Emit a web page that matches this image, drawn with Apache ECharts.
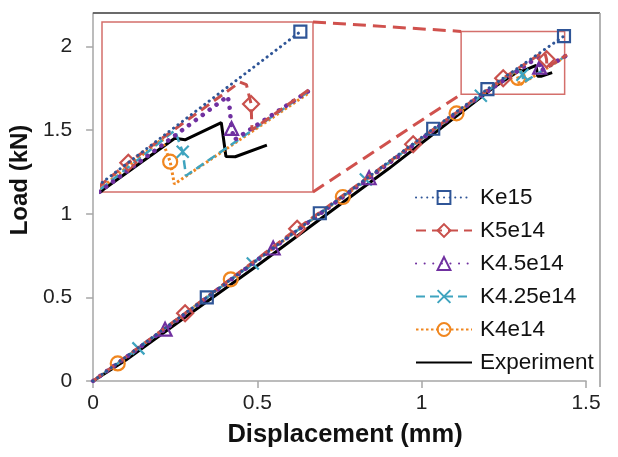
<!DOCTYPE html>
<html>
<head>
<meta charset="utf-8">
<script src="https://cdn.jsdelivr.net/npm/echarts@6/dist/echarts.min.js"></script>
<style>
  html, body { margin: 0; padding: 0; background: #fff; }
  #chart { width: 618px; height: 457px; }
</style>
</head>
<body>
<div id="chart"></div>
<script>
// Load versus displacement for several interface stiffness values, plus the test record.
// Each curve: displacement (mm), load (kN), and which points carry a marker.

const ke15X    = [0, 0.346, 0.690, 1.035, 1.200, 1.433];
const ke15Y    = [0, 0.500, 1.003, 1.508, 1.745, 2.062];
const ke15Mark = [0, 1, 1, 1, 1, 1];

const k5X    = [0, 0.280, 0.621, 0.974, 1.248, 1.368, 1.375, 1.380, 1.381, 1.442];
const k5Y    = [0, 0.405, 0.910, 1.415, 1.810, 1.965, 1.960, 1.923, 1.873, 1.950];
const k5Mark = [0, 1, 1, 1, 1, 0, 0, 1, 0, 0];

const k45X    = [0, 0.219, 0.548, 0.840, 1.150, 1.355, 1.357, 1.359, 1.362, 1.442];
const k45Y    = [0, 0.310, 0.795, 1.215, 1.665, 1.938, 1.915, 1.876, 1.854, 1.948];
const k45Mark = [0, 1, 1, 1, 0, 0, 0, 1, 0, 0];

const k425X    = [0, 0.138, 0.486, 0.830, 1.180, 1.298, 1.3065, 1.310, 1.442];
const k425Y    = [0, 0.195, 0.703, 1.205, 1.705, 1.872, 1.831, 1.785, 1.947];
const k425Mark = [0, 1, 1, 1, 1, 0, 1, 0, 0];

const k4X    = [0, 0.075, 0.419, 0.760, 1.106, 1.284, 1.293, 1.2975, 1.442];
const k4Y    = [0, 0.105, 0.608, 1.100, 1.600, 1.855, 1.812, 1.769, 1.944];
const k4Mark = [0, 1, 1, 1, 1, 0, 1, 0, 0];

const expX = [0, 0.10, 0.30, 0.50, 0.70, 0.90, 1.10, 1.223, 1.298, 1.309, 1.348, 1.353, 1.363, 1.397];
const expY = [0, 0.125, 0.41, 0.69, 0.98, 1.27, 1.575, 1.761, 1.857, 1.854, 1.887, 1.822, 1.8215, 1.844];

const xTicks = [0, 0.5, 1, 1.5];
const yTicks = [0, 0.5, 1, 1.5, 2];

// Region shown enlarged in the inset, and the inset's own axis ranges
const zoomBoxX = [1.12, 1.435];
const zoomBoxY = [1.715, 2.09];
const insetX = [1.2197, 1.4466];
const insetY = [1.7537, 2.0806];

const FONT = '"Liberation Sans", Arial, sans-serif';
const RED_FRAME = '#D46F6B';

function points(xs, ys, marks) {
  return xs.map((x, i) => (marks && marks[i]) ? [x, ys[i]] : { value: [x, ys[i]], symbol: 'none' });
}

const curves = [
  { name: 'Ke15', xs: ke15X, ys: ke15Y, marks: ke15Mark, color: '#2F5597',
    symbol: 'rect', size: 12, line: { width: 3, type: [0.1, 5.5], cap: 'round' } },
  { name: 'K5e14', xs: k5X, ys: k5Y, marks: k5Mark, color: '#C9504C',
    symbol: 'diamond', size: 16, line: { width: 3, type: [10, 6] } },
  { name: 'K4.5e14', xs: k45X, ys: k45Y, marks: k45Mark, color: '#7030A0',
    symbol: 'triangle', size: 13, line: { width: 4.5, type: [0.1, 8.5], cap: 'round' } },
  { name: 'K4.25e14', xs: k425X, ys: k425Y, marks: k425Mark, color: '#3FA4BF',
    symbol: 'path://M0,0L10,10M0,10L10,0', size: 12, line: { width: 2.5, type: [9, 5] } },
  { name: 'K4e14', xs: k4X, ys: k4Y, marks: k4Mark, color: '#F0861F',
    symbol: 'circle', size: 14, line: { width: 3, type: [2.5, 2.5] } },
  { name: 'Experiment', xs: expX, ys: expY, marks: null, color: '#000000',
    symbol: 'none', size: 0, line: { width: 3, type: 'solid' } }
];

const series = [];
[0, 1].forEach(g => {
  curves.forEach((c, idx) => {
    const s = {
      type: 'line',
      name: c.name,
      xAxisIndex: g,
      yAxisIndex: g,
      data: points(c.xs, c.ys, c.marks),
      symbol: c.symbol,
      symbolSize: c.size,
      showSymbol: c.symbol !== 'none',
      clip: true,
      smooth: false,
      animation: false,
      silent: true,
      z: 3 + (curves.length - idx),
      emphasis: { disabled: true },
      lineStyle: Object.assign({ color: c.color }, c.line),
      itemStyle: { color: 'rgba(255,255,255,0)', borderColor: c.color, borderWidth: 2.2,
                   opacity: c.symbol === 'none' ? 0 : 1 }
    };
    if (g === 0 && idx === 0) {
      s.markArea = {
        silent: true,
        itemStyle: { color: 'rgba(0,0,0,0)', borderColor: RED_FRAME, borderWidth: 1.5 },
        data: [[{ coord: [zoomBoxX[0], zoomBoxY[0]] }, { coord: [zoomBoxX[1], zoomBoxY[1]] }]]
      };
    }
    series.push(s);
  });
});

const chart = echarts.init(document.getElementById('chart'), null, { renderer: 'canvas' });

const axisGrey = '#A6A6A6';

chart.setOption({
  animation: false,
  backgroundColor: '#fff',
  textStyle: { fontFamily: FONT },
  grid: [
    { left: 93, top: 13, right: 32, bottom: 76, containLabel: false },
    { left: 102, top: 22, width: 211, height: 170, show: true, backgroundColor: '#fff',
      borderColor: RED_FRAME, borderWidth: 1.5, z: 1 }
  ],
  xAxis: [
    {
      type: 'value', gridIndex: 0, min: 0, max: 1.5, interval: 0.5,
      name: 'Displacement (mm)', nameLocation: 'middle', nameGap: 41,
      nameTextStyle: { fontSize: 25.5, fontWeight: 'bold', color: '#111', fontFamily: FONT, padding: [0, 0, 0, 11] },
      axisLine: { lineStyle: { color: axisGrey, width: 1.5 } },
      axisTick: { show: true, inside: false, length: 7, lineStyle: { color: axisGrey, width: 1.5 },
                  customValues: xTicks },
      axisLabel: { fontSize: 21, color: '#222', margin: 12, fontFamily: FONT, customValues: xTicks,
                   formatter: v => String(v) },
      splitLine: { show: false }
    },
    { type: 'value', gridIndex: 1, min: insetX[0], max: insetX[1], show: false, splitLine: { show: false } }
  ],
  yAxis: [
    {
      type: 'value', gridIndex: 0, min: 0, max: 2.2, interval: 0.5,
      name: 'Load (kN)', nameLocation: 'middle', nameGap: 60, nameRotate: 90,
      nameTextStyle: { fontSize: 24, fontWeight: 'bold', color: '#111', fontFamily: FONT, padding: [0, 0, 0, 34] },
      axisLine: { show: true, lineStyle: { color: axisGrey, width: 1.5 } },
      axisTick: { show: true, inside: false, length: 7, lineStyle: { color: axisGrey, width: 1.5 },
                  customValues: yTicks },
      axisLabel: { fontSize: 21, color: '#222', margin: 21, fontFamily: FONT, customValues: yTicks,
                   formatter: v => String(v) },
      splitLine: { show: false }
    },
    { type: 'value', gridIndex: 1, min: insetY[0], max: insetY[1], show: false, splitLine: { show: false } }
  ],
  legend: {
    orient: 'vertical',
    left: 415,
    top: 186,
    padding: 0,
    itemWidth: 56,
    itemHeight: 16,
    itemGap: 10,
    selectedMode: false,
    textStyle: { fontSize: 22.5, color: '#111', fontFamily: FONT, lineHeight: 22, padding: [0, 0, 0, 3] },
    data: curves.map(c => c.name === 'Experiment'
      ? { name: c.name, itemStyle: { opacity: 0 } }
      : { name: c.name })
  },
  series: series
});

// Frame lines and the dashed leaders joining the inset to the boxed region
const tr = chart.convertToPixel({ gridIndex: 1 }, [insetX[1], insetY[1]]);
const br = chart.convertToPixel({ gridIndex: 1 }, [insetX[1], insetY[0]]);
const boxTL = chart.convertToPixel({ gridIndex: 0 }, [zoomBoxX[0], zoomBoxY[1]]);
const boxBL = chart.convertToPixel({ gridIndex: 0 }, [zoomBoxX[0], zoomBoxY[0]]);
const origin = chart.convertToPixel({ gridIndex: 0 }, [0, 2.2]);
const frameRight = 600;
const frameBottom = 387;

chart.setOption({
  graphic: [
    { type: 'line', z: 10, silent: true,
      shape: { x1: origin[0], y1: origin[1], x2: frameRight, y2: origin[1] },
      style: { stroke: '#3A3A3A', lineWidth: 1.5 } },
    { type: 'line', z: 10, silent: true,
      shape: { x1: frameRight, y1: origin[1], x2: frameRight, y2: frameBottom },
      style: { stroke: '#9A9A9A', lineWidth: 1.5 } },
    { type: 'line', z: 10, silent: true,
      shape: { x1: tr[0], y1: tr[1], x2: boxTL[0], y2: boxTL[1] },
      style: { stroke: '#D0514D', lineWidth: 3, lineDash: [13, 7] } },
    { type: 'line', z: 10, silent: true,
      shape: { x1: br[0], y1: br[1], x2: boxBL[0], y2: boxBL[1] },
      style: { stroke: '#D0514D', lineWidth: 3, lineDash: [13, 7] } }
  ]
});
</script>
</body>
</html>
